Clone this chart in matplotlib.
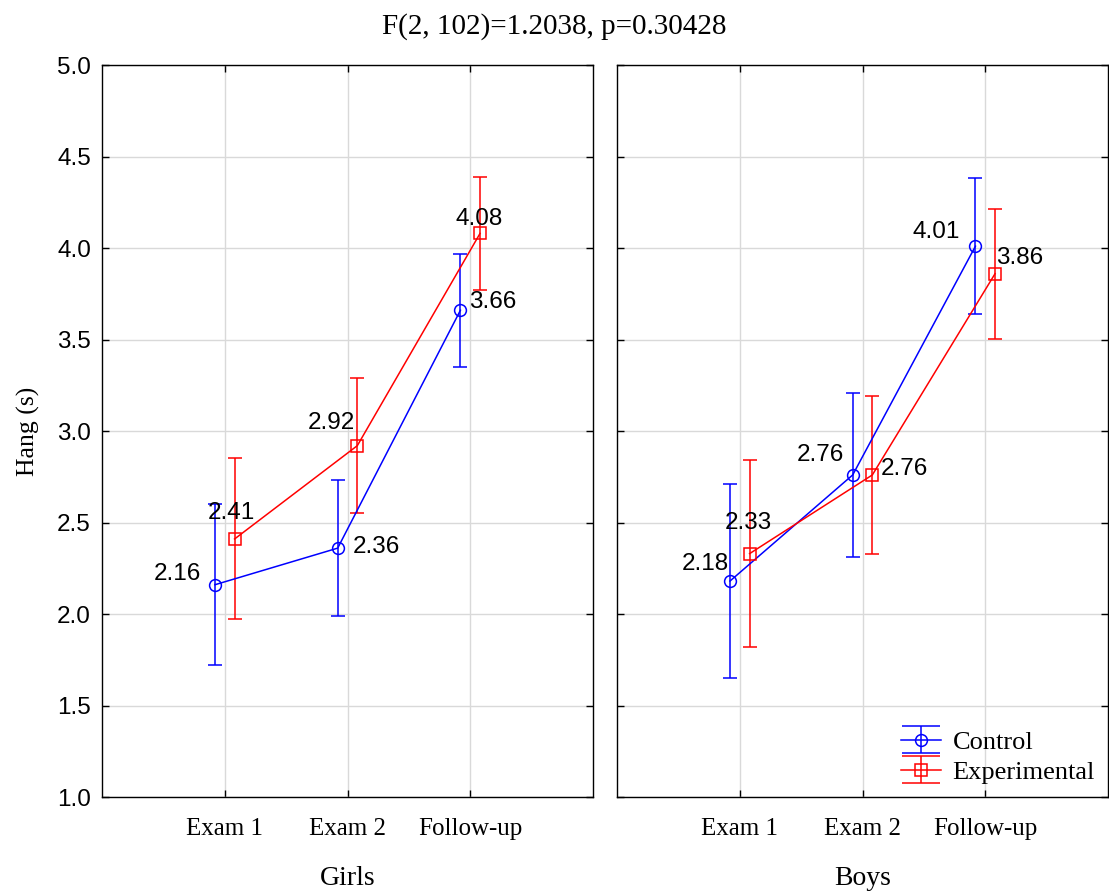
import matplotlib
matplotlib.use('Agg')
import numpy as np
import matplotlib.pyplot as plt

# データ
EXAMS = ['Exam 1', 'Exam 2', 'Follow-up']
PANELS = ['Girls', 'Boys']
GROUPS = ['Control', 'Experimental']

girls_control = [2.16, 2.36, 3.66]
girls_control_ci = [0.44, 0.37, 0.31]
girls_exp = [2.41, 2.92, 4.08]
girls_exp_ci = [0.44, 0.37, 0.31]

boys_control = [2.18, 2.76, 4.01]
boys_control_ci = [0.53, 0.45, 0.37]
boys_exp = [2.33, 2.76, 3.86]
boys_exp_ci = [0.51, 0.43, 0.355]

TITLE = 'F(2, 102)=1.2038, p=0.30428'

# ラベル位置 (offset points, ha)
LABEL_OFFSETS = {
    'Girls': {'Control': [(-10, 8, 'right'), (11, 1, 'left'), (6.5, 6, 'left')],
              'Experimental': [(-2, 19, 'center'), (-2, 16, 'right'), (-1, 10, 'center')]},
    'Boys': {'Control': [(-1, 12, 'right'), (-6.5, 14, 'right'), (-11.5, 10, 'right')],
             'Experimental': [(-1, 22, 'center'), (6, 4, 'left'), (1, 11.5, 'left')]},
}

COLORS = {'Control': 'blue', 'Experimental': 'red'}
MARKERS = {'Control': 'o', 'Experimental': 's'}
SHIFT = {'Control': -0.08, 'Experimental': 0.08}

SERIF = 'Liberation Serif'
SANS = 'Liberation Sans'

fig = plt.figure(figsize=(11.09, 8.92), dpi=100)
ax_left = fig.add_axes([0.092, 0.1065, 0.4427, 0.8206])
ax_right = fig.add_axes([0.5564, 0.1065, 0.4427, 0.8206])

data = {
    'Girls': {'Control': (girls_control, girls_control_ci), 'Experimental': (girls_exp, girls_exp_ci)},
    'Boys': {'Control': (boys_control, boys_control_ci), 'Experimental': (boys_exp, boys_exp_ci)},
}

style = dict(markersize=8.5, markerfacecolor='none', markeredgewidth=1.1,
             linewidth=1.1, elinewidth=1.1, capthick=1.1)

for ax, panel in zip([ax_left, ax_right], PANELS):
    for group in GROUPS:
        vals, ci = data[panel][group]
        xs = [i + SHIFT[group] for i in range(len(EXAMS))]
        ax.errorbar(xs, vals, yerr=ci, color=COLORS[group], marker=MARKERS[group],
                    capsize=5, zorder=3, **style)
        for x, v, (dx, dy, ha) in zip(xs, vals, LABEL_OFFSETS[panel][group]):
            ax.annotate(f'{v:.2f}', (x, v), xytext=(dx, dy), textcoords='offset points',
                        ha=ha, va='center', fontsize=17.5, family=SANS, zorder=4)
    ax.set_xlim(-1, 3)
    ax.set_ylim(1.0, 5.0)
    ax.set_xticks(range(len(EXAMS)))
    ax.set_xticklabels(EXAMS, family=SERIF, fontsize=18)
    ax.set_yticks([1.0 + 0.5 * i for i in range(9)])
    ax.grid(True, color='#d9d9d9', linewidth=1, zorder=0)
    ax.set_axisbelow(True)
    ax.tick_params(direction='in', top=True, right=True, length=5, width=1)
    ax.tick_params(axis='x', pad=15)
    ax.tick_params(axis='y', pad=8)
    ax.set_xlabel(panel, family=SERIF, fontsize=20, labelpad=19)
    for s in ax.spines.values():
        s.set_linewidth(1)

ax_left.set_yticklabels([f'{1.0 + 0.5 * i:.1f}' for i in range(9)], family=SANS, fontsize=17.5)
ax_left.set_ylabel('Hang (s)', family=SERIF, fontsize=18.5, labelpad=12)
ax_right.set_yticklabels([])

# 凡例用ダミー
handles = []
for group in GROUPS:
    h = ax_right.errorbar([np.nan], [np.nan], yerr=[1], color=COLORS[group], marker=MARKERS[group],
                          capsize=14, **style)
    handles.append(h)
ax_right.legend(handles=handles, labels=GROUPS, loc='lower right', frameon=False,
                prop={'family': SERIF, 'size': 19}, handlelength=1.5, handletextpad=0.45,
                borderaxespad=0.1, labelspacing=0.25)

fig.suptitle(TITLE, family=SERIF, fontsize=21, y=0.985)

fig.savefig('out.png', dpi=100)
